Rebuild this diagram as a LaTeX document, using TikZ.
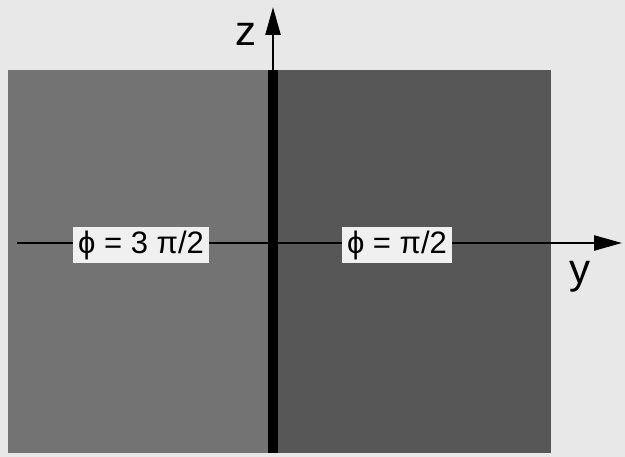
\documentclass[tikz,border=0pt]{standalone}
\usepackage{fontspec}
\setmainfont{Liberation Sans}
\usetikzlibrary{arrows.meta}
\definecolor{paper}{gray}{0.91}
\definecolor{westgray}{gray}{0.45}
\definecolor{eastgray}{gray}{0.34}
\definecolor{tagbg}{gray}{0.94}

\begin{document}
\begin{tikzpicture}[
  x=1pt,y=-1pt,
  >={Triangle[length=28pt,width=15pt]},
  half/.style={draw=none,inner sep=0pt,minimum height=383pt,anchor=north},
  tag/.style={fill=tagbg,inner xsep=5pt,inner ysep=4pt,font=\fontsize{31}{31}\selectfont},
  axislabel/.style={font=\fontsize{42}{42}\selectfont},
  axis/.style={->,line width=2.5pt}
]
  \useasboundingbox[fill=paper] (0,0) rectangle (625,457);

  % the two half planes
  \node[half,fill=westgray,minimum width=262pt] (west) at (139,70) {};
  \node[half,fill=eastgray,minimum width=281pt] (east) at (410.5,70) {};

  \coordinate (origin) at (273,243);
  \coordinate (ztip) at (273,7);
  \coordinate (yfoot) at (17,243);
  \coordinate (ytip) at (622,243);

  % axes
  \draw[line width=10pt] (origin |- west.south) -- (origin |- west.north);
  \draw[axis] (origin |- west.north) -- (ztip);
  \draw[axis] (yfoot) -- (ytip);

  \node[tag] (phiwest) at (141,245) {ϕ = 3 π/2};
  \node[tag] (phieast) at (397,245) {ϕ = π/2};
  \node[axislabel] (zlabel) at (246,34) {z};
  \node[axislabel] (ylabel) at (580,277) {y};
\end{tikzpicture}
\end{document}
